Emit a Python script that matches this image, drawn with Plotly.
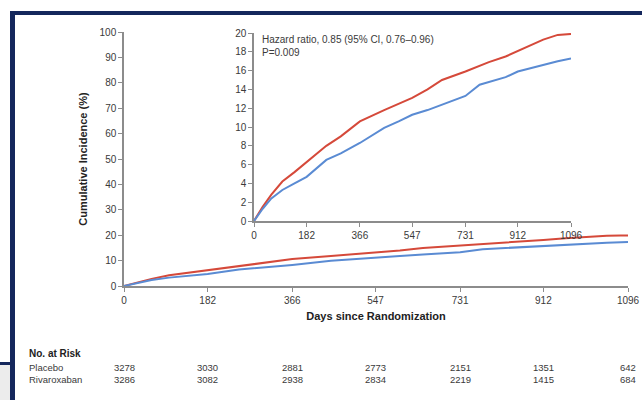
import plotly.graph_objects as go

# ---- data ----
placebo_days = [0, 30, 60, 98, 140, 182, 250, 300, 366, 450, 500, 547, 600, 650, 731, 812, 870, 912, 960, 1000, 1050, 1080, 1096]
placebo_pct = [0, 1.5, 2.8, 4.2, 5.2, 6.3, 8.0, 9.0, 10.6, 11.8, 12.5, 13.1, 14.0, 15.0, 15.9, 16.9, 17.5, 18.1, 18.8, 19.3, 19.8, 19.9, 19.9]
riva_days = [0, 30, 60, 98, 140, 182, 250, 300, 366, 450, 500, 547, 600, 650, 731, 780, 812, 870, 912, 960, 1000, 1050, 1096]
riva_pct = [0, 1.3, 2.4, 3.3, 4.0, 4.7, 6.5, 7.2, 8.3, 9.9, 10.6, 11.3, 11.8, 12.4, 13.3, 14.5, 14.8, 15.3, 15.9, 16.3, 16.6, 17.0, 17.3]

x_ticks = [0, 182, 366, 547, 731, 912, 1096]
main_y_ticks = [0, 10, 20, 30, 40, 50, 60, 70, 80, 90, 100]
inset_y_ticks = [0, 2, 4, 6, 8, 10, 12, 14, 16, 18, 20]
risk_groups = ["Placebo", "Rivaroxaban"]
risk_placebo = [3278, 3030, 2881, 2773, 2151, 1351, 642]
risk_riva = [3286, 3082, 2938, 2834, 2219, 1415, 684]

RED = "#d5493a"
BLUE = "#5a8bd3"
AXC = "#8c8c8c"
TXT = "#3a3a3a"
FONT = "Liberation Sans Narrow, Arial Narrow, Liberation Sans, sans-serif"

W, H = 642, 400
def px(x): return x / W
def py(y): return 1 - y / H

fig = go.Figure()
for xa, ya in [("x", "y"), ("x2", "y2")]:
    fig.add_trace(go.Scatter(x=placebo_days, y=placebo_pct, mode="lines", xaxis=xa, yaxis=ya,
                             line=dict(color=RED, width=2), showlegend=False, hoverinfo="skip"))
    fig.add_trace(go.Scatter(x=riva_days, y=riva_pct, mode="lines", xaxis=xa, yaxis=ya,
                             line=dict(color=BLUE, width=2), showlegend=False, hoverinfo="skip"))

axis_common = dict(showline=True, linecolor=AXC, linewidth=1.5, ticks="outside", ticklen=4,
                   tickcolor=AXC, tickwidth=1.2, showgrid=False, zeroline=False, automargin=False,
                   tickfont=dict(family=FONT, size=10, color=TXT))

fig.update_layout(
    width=W, height=H, margin=dict(l=0, r=0, t=0, b=0, pad=0),
    paper_bgcolor="white", plot_bgcolor="rgba(0,0,0,0)",
    font=dict(family=FONT, color=TXT),
    xaxis=dict(domain=[px(124), px(628)], range=[0, 1096], tickvals=x_ticks, anchor="y",
               title=dict(text="<b>Days since Randomization</b>", font=dict(size=11, color="#222"), standoff=8),
               **axis_common),
    yaxis=dict(domain=[py(286), py(32)], range=[0, 100], tickvals=main_y_ticks, anchor="x",
               title=dict(text="<b>Cumulative Incidence (%)</b>", font=dict(size=11, color="#222"), standoff=10),
               **axis_common),
    xaxis2=dict(domain=[px(254), px(571)], range=[0, 1096], tickvals=x_ticks, anchor="y2", **axis_common),
    yaxis2=dict(domain=[py(221), py(33)], range=[0, 20], tickvals=inset_y_ticks, anchor="x2", **axis_common),
)

# inset labels
fig.add_annotation(x=1100, y=placebo_pct[-1], xref="x2", yref="y2", text="Placebo", showarrow=False,
                   xanchor="left", yanchor="middle", xshift=4, font=dict(family=FONT, size=10, color=TXT))
fig.add_annotation(x=1100, y=riva_pct[-1] + 0.9, xref="x2", yref="y2", text="Rivaroxaban", showarrow=False,
                   xanchor="left", yanchor="middle", xshift=4, font=dict(family=FONT, size=10, color=TXT))
fig.add_annotation(x=px(260), y=py(32), xref="paper", yref="paper", showarrow=False, xanchor="left",
                   yanchor="top", text="Hazard ratio, 0.85 (95% CI, 0.76–0.96)<br>P=0.009", align="left",
                   font=dict(family=FONT, size=10, color=TXT))

# number at risk table
fig.add_annotation(x=px(27), y=py(353), xref="paper", yref="paper", showarrow=False, xanchor="left",
                   yanchor="middle", text="<b>No. at Risk</b>", font=dict(family=FONT, size=10, color="#222"))
for row_y, name, vals in [(367, risk_groups[0], risk_placebo), (379, risk_groups[1], risk_riva)]:
    fig.add_annotation(x=px(27), y=py(row_y), xref="paper", yref="paper", showarrow=False, xanchor="left",
                       yanchor="middle", text=name, font=dict(family=FONT, size=9.5, color=TXT))
    for d, v in zip(x_ticks, vals):
        fig.add_annotation(x=d, y=py(row_y), xref="x", yref="paper", showarrow=False, xanchor="center",
                           yanchor="middle", text=str(v), font=dict(family=FONT, size=9.5, color=TXT))

# navy frame
NAVY = "#14275c"
fig.add_shape(type="rect", xref="paper", yref="paper", x0=px(10), x1=1, y0=py(15), y1=py(11),
              fillcolor=NAVY, line=dict(width=0))
fig.add_shape(type="rect", xref="paper", yref="paper", x0=px(10), x1=px(15), y0=0, y1=py(11),
              fillcolor=NAVY, line=dict(width=0))
fig.add_shape(type="rect", xref="paper", yref="paper", x0=0, x1=px(10), y0=py(365), y1=py(362),
              fillcolor=NAVY, line=dict(width=0))
fig.add_shape(type="rect", xref="paper", yref="paper", x0=0, x1=px(10), y0=0, y1=py(365),
              fillcolor="#ececec", line=dict(width=0))

fig.write_html("out.html", config={"displayModeBar": False},
               post_script="document.body.style.margin='0';document.body.style.overflow='hidden';")
